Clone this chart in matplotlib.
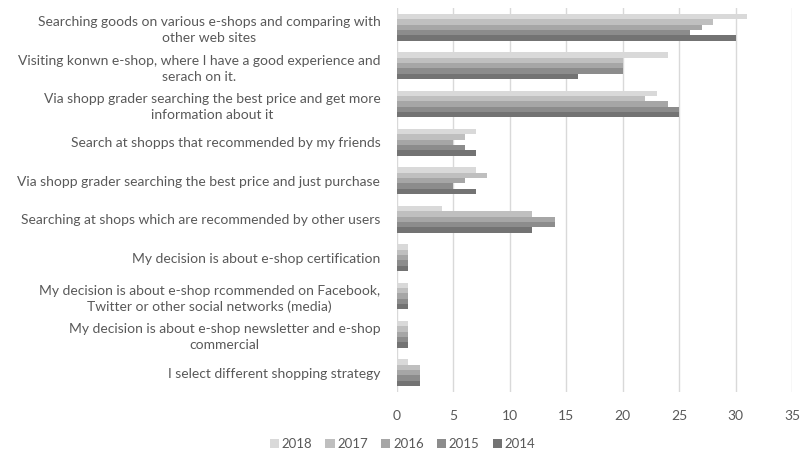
import matplotlib.pyplot as plt
import numpy as np

categories = [
    "Searching goods on various e-shops and comparing with\nother web sites",
    "Visiting konwn e-shop, where I have a good experience and\nserach on it.",
    "Via shopp grader searching the best price and get more\ninformation about it",
    "Search at shopps that recommended by my friends",
    "Via shopp grader searching the best price and just purchase",
    "Searching at shops which are recommended by other users",
    "My decision is about e-shop certification",
    "My decision is about e-shop rcommended on Facebook,\nTwitter or other social networks (media)",
    "My decision is about e-shop newsletter and e-shop\ncommercial",
    "I select different shopping strategy",
]
years = ["2018", "2017", "2016", "2015", "2014"]
v2018 = [31, 24, 23, 7, 7, 4, 1, 1, 1, 1]
v2017 = [28, 20, 22, 6, 8, 12, 1, 1, 1, 2]
v2016 = [27, 20, 24, 5, 6, 14, 1, 1, 1, 2]
v2015 = [26, 20, 25, 6, 5, 14, 1, 1, 1, 2]
v2014 = [30, 16, 25, 7, 7, 12, 1, 1, 1, 2]
series = [v2018, v2017, v2016, v2015, v2014]
colors = ["#d9d9d9", "#bfbfbf", "#a6a6a6", "#8c8c8c", "#737373"]

plt.rcParams['font.family'] = ['Lato', 'DejaVu Sans']
txt = "#595959"

fig = plt.figure(figsize=(8.05, 4.55), dpi=100)
ax = fig.add_axes([397/805, 1-392/455, 395/805, 384/455])

n = len(categories)
y = np.arange(n)
h = 0.14
for i, (vals, c, yr) in enumerate(zip(series, colors, years)):
    ax.barh(y - 0.28 + i*h, vals, height=h, color=c, label=yr, zorder=2)

ax.set_ylim(n - 0.5, -0.5)
ax.set_xlim(0, 35)
ax.set_xticks(np.arange(0, 36, 5))
ax.set_yticks(y)
ax.set_yticklabels(categories, multialignment='center', linespacing=1.4)
ax.tick_params(axis='both', length=0, colors=txt, labelsize=10)
ax.tick_params(axis='y', pad=12)
ax.tick_params(axis='x', pad=13)
ax.grid(axis='x', color='#d9d9d9', linewidth=1, zorder=0)
for s in ax.spines.values():
    s.set_visible(False)

fig.legend(loc='lower center', bbox_to_anchor=(0.5, -0.015), ncol=5, frameon=False,
           handlelength=0.7, handleheight=0.7, handletextpad=0.2, columnspacing=1.0,
           fontsize=9.5, labelcolor=txt)

fig.savefig("out.png", dpi=100)
